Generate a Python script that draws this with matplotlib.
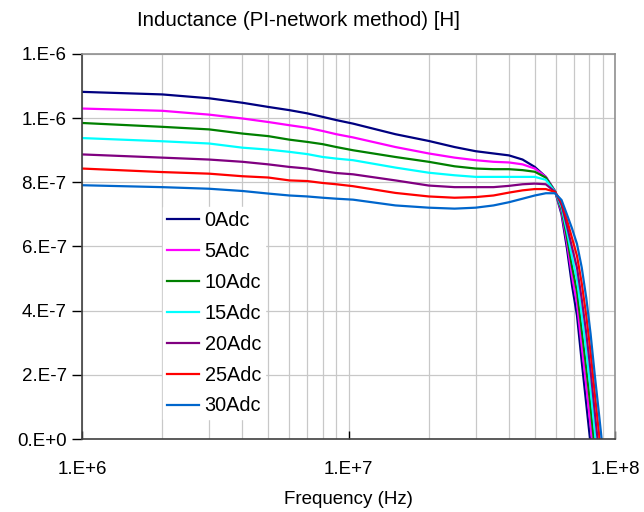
import numpy as np
import matplotlib
matplotlib.use("Agg")
import matplotlib.pyplot as plt
from matplotlib.ticker import FixedLocator, LogLocator, NullFormatter

plt.rcParams['font.family'] = ['Liberation Sans', 'DejaVu Sans']

# frequency points (Hz)
freq = [1e6, 2e6, 3e6, 4e6, 5e6, 6e6, 7e6, 8e6, 9e6, 1.04e7,
        1.5e7, 2e7, 2.5e7, 3e7, 3.5e7, 4e7, 4.5e7, 5e7, 5.5e7, 5.96e7,
        6.3e7, 6.6e7, 6.9e7, 7.2e7, 7.5e7, 7.8e7, 8.1e7, 8.4e7, 8.7e7, 9.0e7]

# inductance in uH, one list per DC bias
L_0 = [1.082, 1.074, 1.062, 1.048, 1.035, 1.025, 1.015, 1.004, 0.994, 0.983,
       0.950, 0.929, 0.910, 0.897, 0.890, 0.884, 0.871, 0.848, 0.817, 0.772,
       0.700, 0.595, 0.478, 0.385, 0.242, 0.110, -0.017, -0.150, -0.280, -0.400]
L_5 = [1.030, 1.023, 1.011, 0.999, 0.988, 0.978, 0.970, 0.960, 0.950, 0.940,
       0.910, 0.890, 0.877, 0.869, 0.864, 0.862, 0.856, 0.843, 0.817, 0.772,
       0.708, 0.613, 0.508, 0.422, 0.291, 0.165, 0.040, -0.092, -0.220, -0.339]
L_10 = [0.985, 0.973, 0.965, 0.952, 0.944, 0.933, 0.926, 0.919, 0.910, 0.900,
        0.879, 0.864, 0.850, 0.843, 0.841, 0.841, 0.838, 0.833, 0.815, 0.771,
        0.715, 0.630, 0.537, 0.459, 0.340, 0.220, 0.098, -0.034, -0.160, -0.278]
L_15 = [0.938, 0.928, 0.921, 0.908, 0.902, 0.895, 0.888, 0.879, 0.874, 0.869,
        0.846, 0.830, 0.822, 0.817, 0.817, 0.817, 0.817, 0.817, 0.808, 0.770,
        0.723, 0.648, 0.567, 0.497, 0.389, 0.275, 0.155, 0.024, -0.100, -0.218]
L_20 = [0.887, 0.877, 0.871, 0.864, 0.856, 0.848, 0.843, 0.835, 0.829, 0.825,
        0.806, 0.790, 0.785, 0.785, 0.785, 0.789, 0.794, 0.796, 0.794, 0.770,
        0.730, 0.665, 0.597, 0.534, 0.437, 0.330, 0.212, 0.082, -0.039, -0.157]
L_25 = [0.843, 0.832, 0.827, 0.819, 0.815, 0.806, 0.804, 0.798, 0.794, 0.788,
        0.767, 0.756, 0.752, 0.754, 0.759, 0.768, 0.775, 0.779, 0.779, 0.770,
        0.738, 0.683, 0.626, 0.571, 0.486, 0.385, 0.270, 0.140, 0.021, -0.096]
L_30 = [0.791, 0.785, 0.780, 0.773, 0.765, 0.759, 0.756, 0.752, 0.749, 0.746,
        0.728, 0.721, 0.718, 0.721, 0.728, 0.738, 0.749, 0.759, 0.766, 0.766,
        0.745, 0.700, 0.656, 0.608, 0.535, 0.440, 0.327, 0.198, 0.081, -0.035]

labels = ['0Adc', '5Adc', '10Adc', '15Adc', '20Adc', '25Adc', '30Adc']
colors = ['#000080', '#FF00FF', '#008000', '#00FFFF', '#800080', '#FF0000', '#0066CC']

y_ticks = [0, 2e-7, 4e-7, 6e-7, 8e-7, 1.0e-6, 1.2e-6]
y_ticklabels = ['0.E+0', '2.E-7', '4.E-7', '6.E-7', '8.E-7', '1.E-6', '1.E-6']
x_ticks = [1e6, 1e7, 1e8]
x_ticklabels = ['1.E+6', '1.E+7', '1.E+8']

fig = plt.figure(figsize=(6.44, 5.12), dpi=100)
ax = fig.add_axes([82 / 644, 73 / 512, 533 / 644, 385 / 512])

series = [L_0, L_5, L_10, L_15, L_20, L_25, L_30]
for vals, lab, col in zip(series, labels, colors):
    ax.plot(freq, np.array(vals) * 1e-6, color=col, lw=1.6, label=lab)

ax.set_xscale('log')
ax.set_xlim(1e6, 1e8)
ax.set_ylim(0, 1.2e-6)

ax.xaxis.set_major_locator(FixedLocator(x_ticks))
ax.set_xticklabels(x_ticklabels)
ax.xaxis.set_minor_locator(LogLocator(base=10, subs=np.arange(2, 10)))
ax.xaxis.set_minor_formatter(NullFormatter())
ax.set_yticks(y_ticks)
ax.set_yticklabels(y_ticklabels)

ax.grid(True, which='both', axis='x', color='#C8C8C8', lw=0.9)
ax.grid(True, which='major', axis='y', color='#C8C8C8', lw=0.9)
ax.set_axisbelow(True)

ax.tick_params(axis='x', which='major', direction='in', length=6, width=1,
               labelsize=13.5, pad=16)
ax.tick_params(axis='x', which='minor', length=0)
ax.tick_params(axis='y', direction='out', length=7, width=1, labelsize=13.5, pad=4)

for side in ['left', 'bottom']:
    ax.spines[side].set_color('#404040')
    ax.spines[side].set_linewidth(1.2)
for side in ['top', 'right']:
    ax.spines[side].set_color('#909090')
    ax.spines[side].set_linewidth(1.2)

ax.set_xlabel('Frequency (Hz)', fontsize=13.5, labelpad=9)
fig.text(137 / 644, 1 - 20 / 512, 'Inductance (PI-network method) [H]',
         fontsize=14.8, ha='left', va='center')

leg = ax.legend(loc='upper left', bbox_to_anchor=(163 / 644, 1 - 207 / 512),
                bbox_transform=fig.transFigure, fontsize=14.3, frameon=True,
                fancybox=False, edgecolor='white', facecolor='white', framealpha=1,
                handlelength=1.6, handletextpad=0.3, labelspacing=0.6,
                borderpad=0.2, borderaxespad=0)

fig.savefig('out.png', dpi=100)
